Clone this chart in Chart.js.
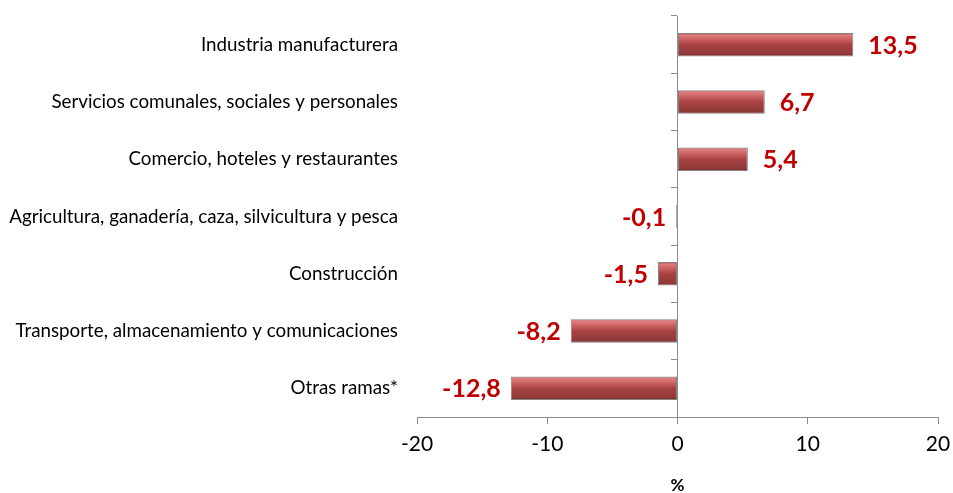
<!DOCTYPE html>
<html>
<head>
<meta charset="utf-8">
<script src="https://cdn.jsdelivr.net/npm/chart.js@4"></script>
<style>
  html, body { margin: 0; padding: 0; background: #fff; }
  #wrap { width: 953px; height: 493px; }
</style>
</head>
<body>
<div id="wrap"><canvas id="ramasChart"></canvas></div>
<script>
var ramas = [
  'Industria manufacturera',
  'Servicios comunales, sociales y personales',
  'Comercio, hoteles y restaurantes',
  'Agricultura, ganadería, caza, silvicultura y pesca',
  'Construcción',
  'Transporte, almacenamiento y comunicaciones',
  'Otras ramas*'
];
var variacion = [13.5, 6.7, 5.4, -0.1, -1.5, -8.2, -12.8];
var xTicks = [-20, -10, 0, 10, 20];

function barGradient(context) {
  var chart = context.chart;
  var area = chart.chartArea;
  if (!area) return '#a84444';
  var y = chart.scales.y.getPixelForValue(context.dataIndex);
  var half = 12;
  var g = chart.ctx.createLinearGradient(0, y - half, 0, y + half);
  g.addColorStop(0, '#a04444');
  g.addColorStop(0.1, '#e07c7c');
  g.addColorStop(0.3, '#c85e5e');
  g.addColorStop(0.5, '#a84242');
  g.addColorStop(0.85, '#923a3a');
  g.addColorStop(1, '#7a3030');
  return g;
}

function noPadding(scale) {
  scale.paddingTop = 0;
  scale.paddingBottom = 0;
  scale.paddingLeft = 0;
  scale.paddingRight = 0;
}

// value labels at the end of each bar
var valueLabels = {
  id: 'valueLabels',
  afterDatasetsDraw: function(chart) {
    var ctx = chart.ctx;
    var meta = chart.getDatasetMeta(0);
    ctx.save();
    ctx.font = 'bold 25px Lato';
    ctx.fillStyle = '#c00000';
    ctx.textBaseline = 'middle';
    meta.data.forEach(function(bar, i) {
      var v = variacion[i];
      var txt = v.toFixed(1).replace('.', ',');
      if (v >= 0) {
        ctx.textAlign = 'left';
        ctx.fillText(txt, bar.x + 15, bar.y + 1);
      } else {
        ctx.textAlign = 'right';
        ctx.fillText(txt, bar.x - 10, bar.y + 1);
      }
    });
    ctx.restore();
  }
};

var ctx = document.getElementById('ramasChart').getContext('2d');
var ramasChart = new Chart(ctx, {
  type: 'bar',
  data: {
    labels: ramas,
    datasets: [{
      data: variacion,
      backgroundColor: barGradient,
      borderColor: '#8a8080',
      borderWidth: 1,
      borderSkipped: false,
      barPercentage: 0.41,
      categoryPercentage: 1.0
    }]
  },
  options: {
    indexAxis: 'y',
    responsive: true,
    maintainAspectRatio: false,
    animation: false,
    layout: { padding: { top: 16, right: 15, left: 0, bottom: 0 } },
    plugins: {
      legend: { display: false },
      tooltip: { enabled: false }
    },
    scales: {
      x: {
        min: -20,
        max: 20,
        afterBuildTicks: function(scale) {
          scale.ticks = xTicks.map(function(v) { return { value: v }; });
        },
        afterFit: function(scale) { scale.height = 76; noPadding(scale); },
        grid: {
          drawOnChartArea: false,
          drawTicks: true,
          tickLength: 7,
          color: '#8c8c8c',
          lineWidth: 1
        },
        border: { display: true, color: '#8c8c8c', width: 1 },
        ticks: {
          color: '#000',
          font: { family: 'Lato', size: 21 },
          padding: 8
        },
        title: {
          display: true,
          text: '%',
          color: '#000',
          font: { family: 'Lato', size: 17, weight: 'bold', lineHeight: 0.9 },
          padding: { top: 16, bottom: 0 }
        }
      },
      y: {
        afterFit: function(scale) { scale.width = 417; noPadding(scale); },
        grid: { display: false },
        border: { display: false },
        ticks: {
          color: '#000',
          font: { family: 'Lato', size: 18.8 },
          padding: 11
        }
      },
      yCero: {
        type: 'category',
        labels: ramas,
        axis: 'y',
        position: { x: 0 },
        offset: true,
        afterFit: function(scale) { scale.width = 0; noPadding(scale); },
        grid: {
          offset: true,
          drawOnChartArea: false,
          tickLength: 6,
          color: '#8c8c8c'
        },
        border: { display: true, color: '#8c8c8c', width: 1 },
        ticks: { display: false }
      }
    }
  },
  plugins: [valueLabels]
});
</script>
</body>
</html>
